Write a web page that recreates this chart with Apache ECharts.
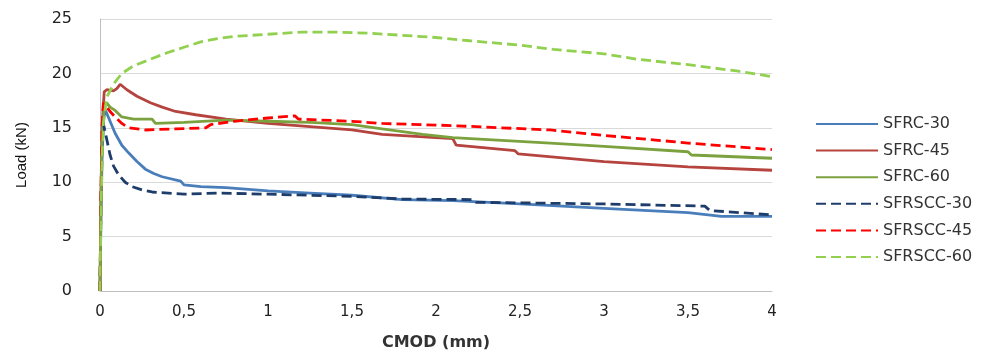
<!DOCTYPE html>
<html>
<head>
<meta charset="utf-8">
<script src="https://cdn.jsdelivr.net/npm/echarts@6/dist/echarts.min.js"></script>
<style>
  html, body { margin: 0; padding: 0; background: #fff; }
  #chart { width: 995px; height: 356px; }
</style>
</head>
<body>
<div id="chart"></div>
<script>
const names = ['SFRC-30', 'SFRC-45', 'SFRC-60', 'SFRSCC-30', 'SFRSCC-45', 'SFRSCC-60']
const xTicks = [0, 0.5, 1, 1.5, 2, 2.5, 3, 3.5, 4]
const yTicks = [0, 5, 10, 15, 20, 25]

// [CMOD, load]
const sfrc30 = [[0,0],[0.005,6],[0.012,12],[0.02,15.5],[0.03,16.7],[0.06,15.6],[0.09,14.5],[0.13,13.4],[0.17,12.7],[0.22,11.9],[0.27,11.2],[0.32,10.8],[0.37,10.5],[0.48,10.1],[0.5,9.75],[0.6,9.6],[0.75,9.5],[1.0,9.2],[1.25,9.0],[1.5,8.8],[1.8,8.4],[2.1,8.3],[2.5,8.0],[3.0,7.6],[3.5,7.2],[3.62,7.0],[3.7,6.85],[4,6.85]]
const sfrc45 = [[0,0],[0.005,8],[0.012,15],[0.025,18.3],[0.04,18.5],[0.08,18.4],[0.1,18.6],[0.12,19.0],[0.16,18.5],[0.22,17.9],[0.3,17.3],[0.37,16.9],[0.45,16.5],[0.57,16.2],[0.75,15.8],[1.0,15.4],[1.25,15.1],[1.5,14.8],[1.68,14.4],[2.1,14.0],[2.12,13.4],[2.47,12.9],[2.49,12.6],[3.0,11.9],[3.5,11.4],[4,11.1]]
const sfrc60 = [[0,0],[0.005,8],[0.012,14],[0.025,17.0],[0.04,17.3],[0.06,16.9],[0.09,16.6],[0.13,16.0],[0.2,15.8],[0.31,15.8],[0.33,15.4],[0.5,15.5],[0.75,15.7],[1.0,15.6],[1.25,15.5],[1.5,15.3],[1.68,14.9],[1.92,14.4],[2.1,14.1],[2.68,13.6],[3.0,13.3],[3.5,12.8],[3.52,12.5],[4,12.2]]
const sfrscc30 = [[0,0],[0.005,7],[0.012,13],[0.02,15.4],[0.03,15.4],[0.06,12.5],[0.08,11.5],[0.11,10.7],[0.15,10.0],[0.19,9.6],[0.25,9.3],[0.31,9.1],[0.5,8.9],[0.7,9.0],[1.0,8.9],[1.5,8.7],[1.8,8.45],[2.22,8.4],[2.24,8.15],[3.0,8.0],[3.6,7.8],[3.63,7.4],[3.9,7.1],[4,7.0]]
const sfrscc45 = [[0,0],[0.005,8],[0.012,15],[0.02,17.3],[0.03,17.2],[0.06,16.5],[0.09,16.0],[0.13,15.4],[0.17,15.0],[0.27,14.8],[0.45,14.9],[0.63,15.0],[0.66,15.3],[0.8,15.6],[1.0,15.9],[1.16,16.1],[1.18,15.8],[1.5,15.6],[1.68,15.4],[2.1,15.2],[2.68,14.8],[3.0,14.3],[3.5,13.6],[4,13.0]]
const sfrscc60 = [[0,0],[0.005,6],[0.012,12],[0.02,15.5],[0.04,17.8],[0.08,19.0],[0.13,20.0],[0.2,20.7],[0.3,21.3],[0.4,21.9],[0.5,22.4],[0.6,22.9],[0.7,23.2],[0.8,23.4],[0.9,23.5],[1.0,23.6],[1.2,23.8],[1.4,23.8],[1.6,23.7],[1.8,23.5],[2.0,23.3],[2.2,23.0],[2.5,22.6],[2.7,22.2],[3.0,21.8],[3.2,21.3],[3.5,20.8],[3.8,20.2],[4,19.7]]

const allData = [sfrc30, sfrc45, sfrc60, sfrscc30, sfrscc45, sfrscc60]
const colors = ['#4A7EBB', '#B5443F', '#7BA23F', '#1F3D6B', '#FF0000', '#92D050']
const dashed = [false, false, false, true, true, true]

const chart = echarts.init(document.getElementById('chart'))

const option = {
  animation: false,
  textStyle: { fontFamily: 'DejaVu Sans', color: '#333' },
  grid: { left: 100, right: 223, top: 19, bottom: 55 },
  legend: {
    orient: 'vertical',
    left: 810,
    top: 111,
    itemWidth: 62,
    itemHeight: 14,
    itemGap: 10.6,
    itemStyle: { opacity: 0 },
    textStyle: { fontSize: 16, color: '#333', fontFamily: 'DejaVu Sans' },
    data: names
  },
  xAxis: {
    type: 'value',
    min: 0,
    max: 4,
    interval: 0.5,
    name: 'CMOD (mm)',
    nameLocation: 'middle',
    nameGap: 44,
    nameTextStyle: { fontSize: 16, fontWeight: 'bold', color: '#333' },
    axisLine: { lineStyle: { color: '#BFBFBF' } },
    axisTick: { show: false },
    splitLine: { show: false },
    axisLabel: {
      fontSize: 15,
      margin: 14,
      color: '#222',
      formatter: v => String(v).replace('.', ',')
    }
  },
  yAxis: {
    type: 'value',
    min: 0,
    max: 25,
    interval: 5,
    name: 'Load (kN)',
    nameLocation: 'middle',
    nameGap: 71,
    nameTextStyle: { fontSize: 15, fontFamily: 'Liberation Sans', color: '#111' },
    axisLine: { show: true, lineStyle: { color: '#BFBFBF' } },
    axisTick: { show: false },
    splitLine: { lineStyle: { color: '#D9D9D9' } },
    axisLabel: { fontSize: 16, margin: 28, color: '#222' }
  },
  series: names.map((n, i) => ({
    name: n,
    type: 'line',
    data: allData[i],
    symbol: 'none',
    color: colors[i],
    lineStyle: { width: 2.8, color: colors[i], type: dashed[i] ? [10, 5] : 'solid' }
  }))
}

chart.setOption(option)
</script>
</body>
</html>
